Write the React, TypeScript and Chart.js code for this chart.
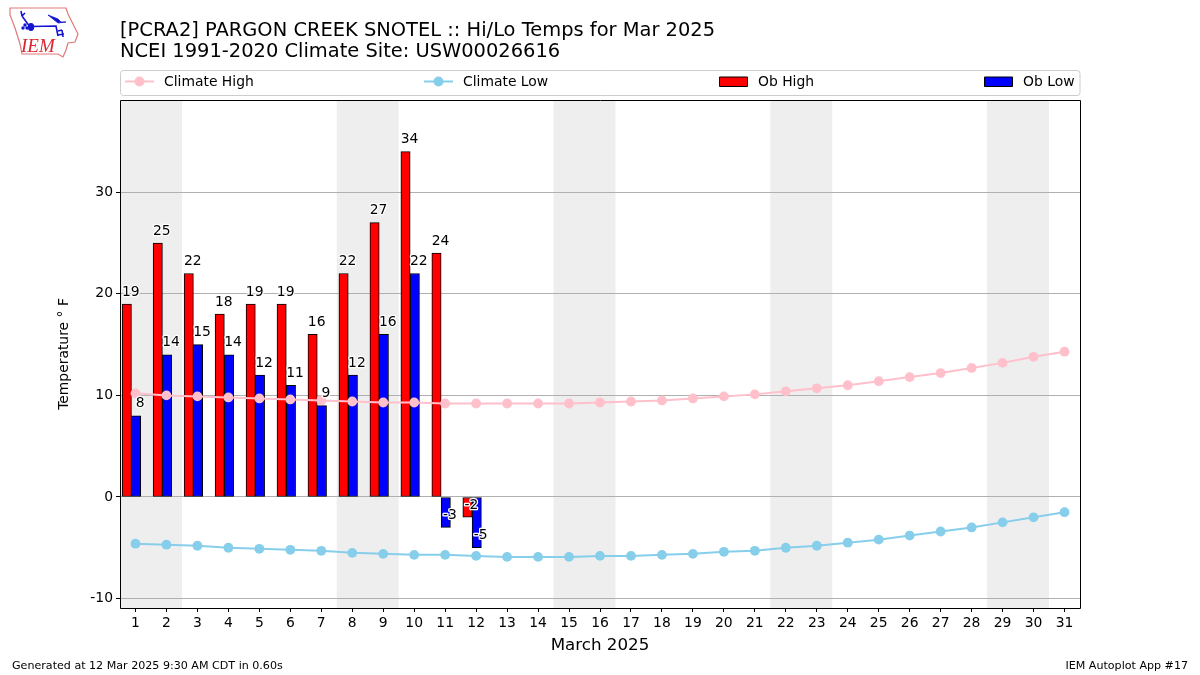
import React, { useEffect, useRef } from "react";
import { Chart, registerables } from "chart.js";

Chart.register(...registerables);

const FONT = "'DejaVu Sans', sans-serif";

const days = [1,2,3,4,5,6,7,8,9,10,11,12,13,14,15,16,17,18,19,20,21,22,23,24,25,26,27,28,29,30,31];
const obDays = [1,2,3,4,5,6,7,8,9,10,11,12];
const obHigh = [19,25,22,18,19,19,16,22,27,34,24,-2];
const obLow = [8,14,15,14,12,11,9,12,16,22,-3,-5];
const climateHigh = [10.2,10.0,9.9,9.8,9.7,9.6,9.5,9.4,9.3,9.3,9.2,9.2,9.2,9.2,9.2,9.3,9.4,9.5,9.7,9.9,10.1,10.4,10.7,11.0,11.4,11.8,12.2,12.7,13.2,13.8,14.3];
const climateLow = [-4.6,-4.7,-4.8,-5.0,-5.1,-5.2,-5.3,-5.5,-5.6,-5.7,-5.7,-5.8,-5.9,-5.9,-5.9,-5.8,-5.8,-5.7,-5.6,-5.4,-5.3,-5.0,-4.8,-4.5,-4.2,-3.8,-3.4,-3.0,-2.5,-2.0,-1.5];
const weekendStarts = [1,8,15,22,29];
const yTicks = [-10,0,10,20,30];
const titleLines = ["[PCRA2] PARGON CREEK SNOTEL :: Hi/Lo Temps for Mar 2025","NCEI 1991-2020 Climate Site: USW00026616"];
const xTitle = "March 2025";
const yTitle = "Temperature \u00B0 F";
const footerLeft = "Generated at 12 Mar 2025 9:30 AM CDT in 0.60s";
const footerRight = "IEM Autoplot App #17";

const legendX = [125, 424, 719, 984];

const overlay = {
  id: "overlay",
  beforeDraw(chart: any) {
    const { ctx, chartArea: a, scales } = chart;
    ctx.save();
    ctx.fillStyle = "#eeeeee";
    weekendStarts.forEach((d) => {
      const x0 = scales.x.getPixelForValue(d - 0.5);
      const x1 = scales.x.getPixelForValue(d + 1.5);
      ctx.fillRect(x0, a.top, x1 - x0, a.bottom - a.top);
    });
    ctx.restore();
  },
  afterDraw(chart: any) {
    const { ctx, chartArea: a, scales } = chart;
    ctx.save();
    // value labels
    ctx.font = `13.9px ${FONT}`;
    ctx.textAlign = "center";
    ctx.textBaseline = "middle";
    ctx.lineJoin = "round";
    const label = (d: number, v: number, off: number) => {
      const x = scales.x.getPixelForValue(d + off);
      const y = scales.y.getPixelForValue(v) - 12;
      ctx.strokeStyle = "#fff";
      ctx.lineWidth = 2.5;
      ctx.strokeText(String(v), x, y);
      ctx.fillStyle = "#000";
      ctx.fillText(String(v), x, y);
    };
    obDays.forEach((d, i) => label(d, obHigh[i], -0.15));
    obDays.forEach((d, i) => label(d, obLow[i], 0.15));
    // frame
    ctx.strokeStyle = "#000";
    ctx.lineWidth = 1;
    ctx.strokeRect(Math.round(a.left) + 0.5, Math.round(a.top) + 0.5, Math.round(a.right - a.left), Math.round(a.bottom - a.top));
    // legend
    const top = 70.5, h = 25;
    ctx.strokeStyle = "#cccccc";
    ctx.beginPath();
    ctx.roundRect(120.5, top, 959.5, h, 3);
    ctx.stroke();
    ctx.textAlign = "left";
    const cy = 81.5;
    chart.data.datasets.forEach((ds: any, i: number) => {
      const x = legendX[i];
      if (ds.type === "line") {
        ctx.strokeStyle = ds.borderColor;
        ctx.lineWidth = 2;
        ctx.beginPath();
        ctx.moveTo(x, cy);
        ctx.lineTo(x + 29, cy);
        ctx.stroke();
        ctx.fillStyle = ds.borderColor;
        ctx.beginPath();
        ctx.arc(x + 14.5, cy, 5, 0, Math.PI * 2);
        ctx.fill();
      } else {
        ctx.fillStyle = ds.backgroundColor;
        ctx.strokeStyle = "#000";
        ctx.lineWidth = 1;
        ctx.fillRect(x + 0.5, cy - 4.5, 28, 9.5);
        ctx.strokeRect(x + 0.5, cy - 4.5, 28, 9.5);
      }
      ctx.fillStyle = "#000";
      ctx.textBaseline = "middle";
      ctx.font = `13.9px ${FONT}`;
      ctx.fillText(ds.label, x + 39, cy + 0.5);
    });
    // footer
    ctx.font = `11.1px ${FONT}`;
    ctx.textBaseline = "middle";
    ctx.fillStyle = "#000";
    ctx.fillText(footerLeft, 12, 666.5);
    ctx.textAlign = "right";
    ctx.fillText(footerRight, 1188, 666.5);
    ctx.restore();
  },
};

function Logo() {
  return (
    <svg width={90} height={62} style={{ position: "absolute", left: 0, top: 0 }}>
      <path d="M10 8 L66 8 L68 14 L73 24 L78 34 L75 42 L68 43 L66 50 L63 57 L58 54 L22 54 L20 44 L15 28 L10 15 Z" fill="none" stroke="#e07878" strokeWidth={1.2} />
      <g stroke="#1414d2" fill="#1414d2" strokeWidth={1.6}>
        <path d="M30 27 L22 16 M22 16 L21 11 M22 16 L25 13" fill="none" />
        <ellipse cx={31} cy={27} rx={2.4} ry={3.2} />
        <path d="M31 26.5 L56 26 L58 36" fill="none" />
        <path d="M48 15 L58 19 L61 22 L66 22 L58 23 Z" strokeWidth={0.8} />
        <path d="M58 31 L62 30 M58 35 L64 34 M62 30 L63 37" fill="none" />
        <circle cx={25} cy={25} r={0.9} />
        <circle cx={23} cy={28} r={0.9} />
        <circle cx={27} cy={28} r={0.9} />
      </g>
      <text x={21} y={52} fontFamily="'Liberation Serif', serif" fontStyle="italic" fontSize={19} fill="#d8252f">IEM</text>
    </svg>
  );
}

export default function App() {
  const ref = useRef<HTMLCanvasElement>(null);
  useEffect(() => {
    document.body.style.margin = "0";
    const chart = new Chart(ref.current as HTMLCanvasElement, {
      type: "bar",
      data: {
        datasets: [
          {
            type: "line",
            label: "Climate High",
            data: days.map((d, i) => ({ x: d, y: climateHigh[i] })),
            borderColor: "#ffc0cb",
            backgroundColor: "#ffc0cb",
            borderWidth: 2,
            pointRadius: 4.9,
            pointBorderWidth: 0,
            order: 1,
          },
          {
            type: "line",
            label: "Climate Low",
            data: days.map((d, i) => ({ x: d, y: climateLow[i] })),
            borderColor: "#87ceeb",
            backgroundColor: "#87ceeb",
            borderWidth: 2,
            pointRadius: 4.9,
            pointBorderWidth: 0,
            order: 1,
          },
          {
            type: "bar",
            label: "Ob High",
            data: obDays.map((d, i) => ({ x: d - 0.28, y: obHigh[i] })),
            backgroundColor: "#ff0000",
            borderColor: "#000",
            borderWidth: 1,
            borderSkipped: false,
            grouped: false,
            categoryPercentage: 1,
            barPercentage: 1,
            order: 2,
          },
          {
            type: "bar",
            label: "Ob Low",
            data: obDays.map((d, i) => ({ x: d + 0.02, y: obLow[i] })),
            backgroundColor: "#0000ff",
            borderColor: "#000",
            borderWidth: 1,
            borderSkipped: false,
            grouped: false,
            categoryPercentage: 1,
            barPercentage: 1,
            order: 2,
          },
        ],
      } as any,
      options: {
        responsive: false,
        animation: false,
        layout: { padding: { left: 56, right: 120, top: 0, bottom: 19 } },
        plugins: {
          legend: { display: false },
          tooltip: { enabled: false },
          title: {
            display: true,
            fullSize: false,
            align: "start",
            text: titleLines,
            color: "#000",
            font: { family: FONT, size: 19.44, weight: "normal", lineHeight: 1.08 },
            padding: { top: 20, bottom: 38 },
          },
        },
        scales: {
          x: {
            type: "linear",
            offset: false,
            min: 0.5,
            max: 31.5,
            afterBuildTicks: (s: any) => { s.ticks = days.map((d) => ({ value: d })); },
            afterFit: (s: any) => { s.height = 48; },
            ticks: {
              autoSkip: false,
              maxRotation: 0,
              color: "#000",
              padding: 3,
              font: { family: FONT, size: 13.9 },
              callback: (v: any) => String(v),
            },
            grid: { offset: false, drawOnChartArea: false, drawTicks: true, tickLength: 4, tickColor: "#000", tickWidth: 1 },
            border: { display: false },
            title: { display: true, text: xTitle, color: "#000", font: { family: FONT, size: 16.7 }, padding: { top: 6, bottom: 0 } },
          },
          y: {
            type: "linear",
            min: -10.93,
            max: 39.08,
            afterBuildTicks: (s: any) => { s.ticks = yTicks.map((v) => ({ value: v })); },
            afterFit: (s: any) => { s.width = 64; },
            ticks: { color: "#000", padding: 3, font: { family: FONT, size: 13.9 }, callback: (v: any) => String(v) },
            grid: { color: "#b0b0b0", lineWidth: 1, drawTicks: true, tickLength: 4, tickColor: "#000", tickWidth: 1 },
            border: { display: false },
            title: { display: true, text: yTitle, color: "#000", font: { family: FONT, size: 13.9 }, padding: 0 },
          },
        },
      },
      plugins: [overlay],
    } as any);
    return () => chart.destroy();
  }, []);
  return (
    <div style={{ position: "absolute", left: 0, top: 0, width: 1200, height: 675 }}>
      <canvas ref={ref} width={1200} height={675} style={{ display: "block" }} />
      <Logo />
    </div>
  );
}
